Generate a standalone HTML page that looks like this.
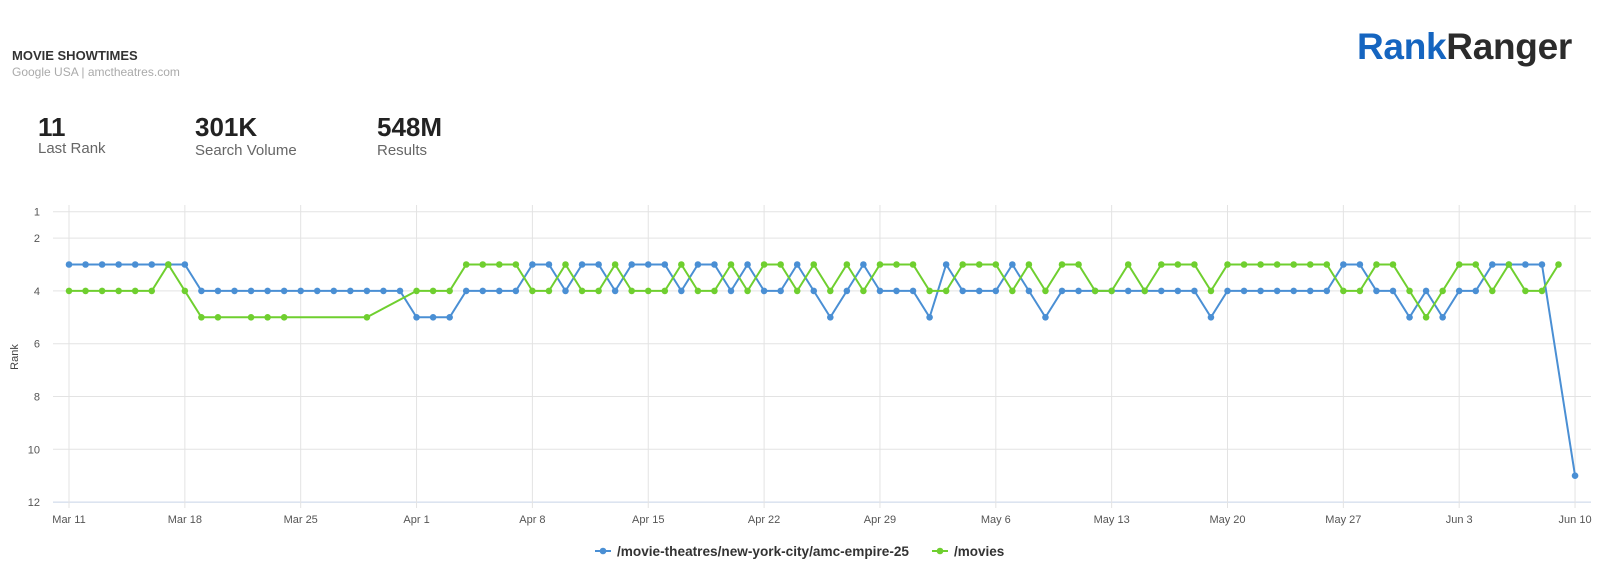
<!DOCTYPE html>
<html><head><meta charset="utf-8"><style>
html,body{margin:0;padding:0;background:#fff;width:1617px;height:575px;overflow:hidden;font-family:"Liberation Sans",sans-serif}
.t{position:absolute;white-space:nowrap}
</style></head><body>
<div class="t" style="left:12px;top:48px;font-size:13px;font-weight:bold;color:#333">MOVIE SHOWTIMES</div>
<div class="t" style="left:12px;top:65px;font-size:12px;color:#aaa">Google USA | amctheatres.com</div>
<div class="t" style="left:38px;top:112px;font-size:26px;font-weight:bold;color:#222">11</div>
<div class="t" style="left:38px;top:140px;font-size:15px;color:#666">Last Rank</div>
<div class="t" style="left:195px;top:112px;font-size:26px;font-weight:bold;color:#222">301K</div>
<div class="t" style="left:195px;top:142px;font-size:15px;color:#666">Search Volume</div>
<div class="t" style="left:377px;top:112px;font-size:26px;font-weight:bold;color:#222">548M</div>
<div class="t" style="left:377px;top:142px;font-size:15px;color:#666">Results</div>
<div class="t" style="left:1357px;top:26px;font-size:37px;font-weight:bold;letter-spacing:-0.3px"><span style="color:#1565c0">Rank</span><span style="color:#2b2b2b">Ranger</span></div>
<svg id="c" width="1617" height="575" style="position:absolute;left:0;top:0"></svg>
<script>
var B=[3,3,3,3,3,3,3,3,4,4,4,4,4,4,4,4,4,4,4,4,4,5,5,5,4,4,4,4,3,3,4,3,3,4,3,3,3,4,3,3,4,3,4,4,3,4,5,4,3,4,4,4,5,3,4,4,4,3,4,5,4,4,4,4,4,4,4,4,4,5,4,4,4,4,4,4,4,3,3,4,4,5,4,5,4,4,3,3,3,3,null,11];
var G=[4,4,4,4,4,4,3,4,5,5,null,5,5,5,null,null,null,null,5,null,null,4,4,4,3,3,3,3,4,4,3,4,4,3,4,4,4,3,4,4,3,4,3,3,4,3,4,3,4,3,3,3,4,4,3,3,3,4,3,4,3,3,4,4,3,4,3,3,3,4,3,3,3,3,3,3,3,4,4,3,3,4,5,4,3,3,4,3,4,4,3,null];
function X(d){return 69+d*16.55}function Y(r){return 211.7+(r-1)*26.4}
var s='';
[1,2,4,6,8,10,12].forEach(function(r){var y=Y(r);s+='<line x1="53" x2="1591" y1="'+y+'" y2="'+y+'" stroke="'+(r==12?'#c8d3e8':'#e3e3e3')+'" stroke-width="1"/>';
s+='<text x="40" y="'+(y+4)+'" font-size="11" fill="#555" text-anchor="end" font-family="Liberation Sans">'+r+'</text>';});
var L=['Mar 11','Mar 18','Mar 25','Apr 1','Apr 8','Apr 15','Apr 22','Apr 29','May 6','May 13','May 20','May 27','Jun 3','Jun 10'];
L.forEach(function(l,i){var x=X(i*7);s+='<line x1="'+x+'" x2="'+x+'" y1="205" y2="508" stroke="#e3e3e3"/>';
s+='<text x="'+x+'" y="523" font-size="11" fill="#555" text-anchor="middle" font-family="Liberation Sans">'+l+'</text>';});
s+='<text x="18" y="357" font-size="11" fill="#444" text-anchor="middle" font-family="Liberation Sans" transform="rotate(-90 18 357)">Rank</text>';
function ser(a,c){var p=[];a.forEach(function(v,i){if(v!=null)p.push(X(i)+','+Y(v));});
var o='<polyline points="'+p.join(' ')+'" fill="none" stroke="'+c+'" stroke-width="2"/>';
a.forEach(function(v,i){if(v!=null)o+='<circle cx="'+X(i)+'" cy="'+Y(v)+'" r="3.3" fill="'+c+'"/>';});return o;}
s+=ser(B,'#4a8fd4')+ser(G,'#6fcf2f');
s+='<line x1="595" x2="611" y1="551" y2="551" stroke="#4a8fd4" stroke-width="2"/><circle cx="603" cy="551" r="3.3" fill="#4a8fd4"/>';
s+='<text x="617" y="556" font-size="13.5" font-weight="bold" fill="#333" font-family="Liberation Sans" textLength="292" lengthAdjust="spacingAndGlyphs">/movie-theatres/new-york-city/amc-empire-25</text>';
s+='<line x1="932" x2="948" y1="551" y2="551" stroke="#6fcf2f" stroke-width="2"/><circle cx="940" cy="551" r="3.3" fill="#6fcf2f"/>';
s+='<text x="954" y="556" font-size="13.5" font-weight="bold" fill="#333" font-family="Liberation Sans">/movies</text>';
document.getElementById('c').innerHTML=s;
</script>
</body></html>
